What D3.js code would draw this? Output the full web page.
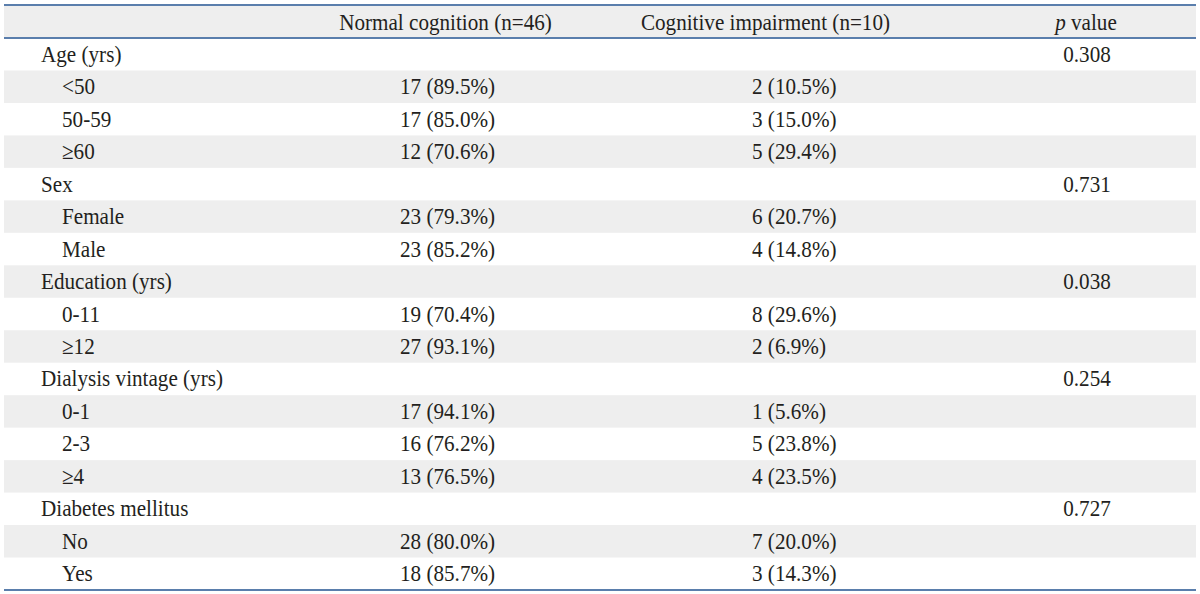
<!DOCTYPE html>
<html>
<head>
<meta charset="utf-8">
<script src="https://cdn.jsdelivr.net/npm/d3@7"></script>
<style>
html,body{margin:0;padding:0;background:#fff;}
svg{display:block;}
</style>
</head>
<body>
<svg id="chart" width="1200" height="594"></svg>
<script>
const headers = ["", "Normal cognition (n=46)", "Cognitive impairment (n=10)", "p value"];
const rowLabels = ["Age (yrs)", "<50", "50-59", "\u226560", "Sex", "Female", "Male", "Education (yrs)", "0-11", "\u226512", "Dialysis vintage (yrs)", "0-1", "2-3", "\u22654", "Diabetes mellitus", "No", "Yes"];
const rowLevel = [0,1,1,1,0,1,1,0,1,1,0,1,1,1,0,1,1];
const normalN = [null,17,17,12,null,23,23,null,19,27,null,17,16,13,null,28,18];
const normalPct = [null,"89.5","85.0","70.6",null,"79.3","85.2",null,"70.4","93.1",null,"94.1","76.2","76.5",null,"80.0","85.7"];
const impairedN = [null,2,3,5,null,6,4,null,8,2,null,1,5,4,null,7,3];
const impairedPct = [null,"10.5","15.0","29.4",null,"20.7","14.8",null,"29.6","6.9",null,"5.6","23.8","23.5",null,"20.0","14.3"];
const pValues = ["0.308",null,null,null,"0.731",null,null,"0.038",null,null,"0.254",null,null,null,"0.727",null,null];

const svg = d3.select("#chart");
const left = 4, right = 1196;
const headerTop = 5, headerBottom = 38, tableBottom = 590;
const lineColor = "#5a7eac";
const shade = "#eeeeee";
const textColor = "#231f20";
const fontSize = 23, sx = 0.92;

const y = d3.scaleBand().domain(d3.range(rowLabels.length)).range([headerBottom, tableBottom]).padding(0);

// header background
svg.append("rect").attr("x", left).attr("y", headerTop).attr("width", right - left).attr("height", headerBottom - headerTop).attr("fill", shade);

// row shading
svg.selectAll("rect.band").data(d3.range(rowLabels.length).filter(i => i % 2 === 1))
  .join("rect").attr("class","band")
  .attr("x", left).attr("y", i => y(i)).attr("width", right - left).attr("height", y.bandwidth())
  .attr("fill", shade);

// lines
[headerTop, headerBottom, tableBottom].forEach(yy => {
  svg.append("line").attr("x1", left).attr("x2", right).attr("y1", yy).attr("y2", yy)
    .attr("stroke", lineColor).attr("stroke-width", 1.8);
});

function addText(x, yy, anchor) {
  return svg.append("text")
    .attr("transform", `translate(${x},${yy}) scale(${sx},1)`)
    .attr("text-anchor", anchor || "start")
    .attr("font-family", "'Liberation Serif', 'Times New Roman', serif")
    .attr("font-size", fontSize)
    .attr("fill", textColor);
}

// headers
const headerBase = 30;
addText(445.5, headerBase, "middle").text(headers[1]);
addText(765.5, headerBase, "middle").text(headers[2]);
const pv = addText(1086, headerBase, "middle");
pv.append("tspan").attr("font-style", "italic").text("p");
pv.append("tspan").text(" value");

// rows
const baseOff = 7.5;
rowLabels.forEach((lab, i) => {
  const by = y(i) + y.bandwidth() / 2 + baseOff;
  addText(rowLevel[i] ? 62 : 41, by, "start").text(lab);
  if (normalN[i] !== null) addText(400, by, "start").text(`${normalN[i]} (${normalPct[i]}%)`);
  if (impairedN[i] !== null) addText(752, by, "start").text(`${impairedN[i]} (${impairedPct[i]}%)`);
  if (pValues[i] !== null) addText(1087, by, "middle").text(pValues[i]);
});
</script>
</body>
</html>
